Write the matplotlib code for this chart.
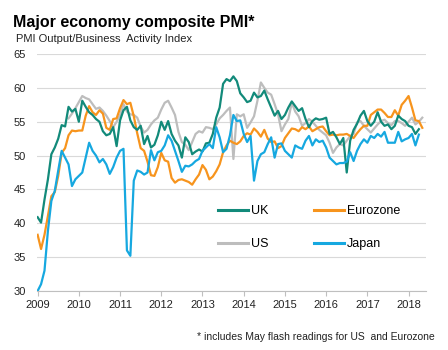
import numpy as np
import matplotlib
matplotlib.use("Agg")
import matplotlib.pyplot as plt
from matplotlib.lines import Line2D

plt.rcParams['font.family'] = ['Liberation Sans', 'DejaVu Sans']

# monthly readings, Jan 2009 onwards
uk = [40.9, 40.1, 43.5, 46.5, 50.2, 51.2, 52.5, 54.5, 54.3, 57.2, 56.5, 56.9,
      55.0, 58.1, 57.2, 56.4, 56.0, 55.4, 55.0, 53.6, 53.0, 53.2, 54.2, 51.4,
      55.2, 56.7, 57.2, 55.2, 54.2, 53.8, 54.4, 51.7, 52.9, 51.2, 51.6, 53.0,
      55.0, 53.8, 55.1, 53.2, 52.2, 51.5, 49.7, 52.7, 52.0, 50.2, 50.6, 50.9,
      50.6, 51.8, 51.9, 53.2, 55.6, 57.1, 60.6, 61.3, 61.0, 61.7, 61.0, 59.2,
      58.6, 57.9, 58.1, 59.3, 58.6, 58.8, 59.6, 58.3, 57.1, 55.9, 56.6, 55.4,
      56.0, 57.1, 58.0, 57.3, 56.6, 57.0, 55.4, 54.2, 55.1, 55.5, 55.3, 55.4,
      55.6, 53.2, 53.5, 52.7, 51.7, 52.6, 47.5, 52.2, 53.8, 54.7, 55.9, 56.6,
      55.1, 54.4, 55.0, 56.4, 55.0, 54.4, 54.6, 53.9, 54.4, 55.9, 55.4, 55.1,
      54.4, 54.2, 53.2, 53.9]

eurozone = [38.3, 36.2, 38.3, 41.1, 44.0, 44.6, 47.0, 50.4, 51.1, 53.0, 53.7, 53.6,
            53.7, 53.7, 55.9, 57.3, 56.4, 56.0, 56.7, 56.2, 54.1, 53.8, 55.4, 55.5,
            57.0, 58.2, 57.6, 57.8, 55.8, 53.3, 51.1, 50.7, 49.1, 47.1, 47.0, 48.3,
            50.4, 49.3, 49.1, 46.7, 46.0, 46.4, 46.5, 46.3, 46.1, 45.7, 46.5, 47.2,
            48.6, 47.9, 46.5, 46.9, 47.7, 48.7, 50.5, 51.5, 52.2, 51.9, 51.7, 52.1,
            52.9, 53.3, 53.1, 54.0, 53.5, 52.8, 53.8, 52.5, 52.0, 52.1, 51.1, 51.4,
            52.6, 53.3, 54.0, 53.9, 53.6, 54.2, 53.9, 54.3, 53.6, 53.9, 54.2, 54.3,
            53.6, 53.0, 53.1, 53.0, 53.1, 53.1, 53.2, 52.9, 52.6, 53.3, 53.9, 54.4,
            54.4, 56.0, 56.4, 56.8, 56.8, 56.3, 55.7, 55.7, 56.7, 55.9, 57.5, 58.1,
            58.8, 57.1, 55.2, 55.1, 54.1]

# US series starts Oct 2009
us_start = 9
us = [55.5, 56.2, 57.0,
      57.9, 58.8, 58.5, 58.3, 57.6, 56.9, 57.1, 56.6, 55.9, 55.1, 54.2, 55.0,
      56.0, 57.6, 56.5, 56.1, 56.0, 55.6, 54.3, 53.4, 53.8, 54.6, 55.2, 55.6,
      56.8, 57.8, 58.1, 57.1, 56.0, 53.5, 52.0, 51.6, 50.8, 52.0, 53.2, 53.6,
      53.4, 54.2, 54.1, 53.9, 54.6, 55.5, 56.0, 56.6, 57.1, 49.5, 56.1, 55.8,
      56.1, 54.1, 54.9, 55.8, 58.1, 60.8, 60.0, 59.3, 59.0, 57.6, 56.1, 53.6,
      54.6, 55.4, 57.8, 56.5, 55.8, 54.4, 54.8, 55.4, 55.0, 54.4, 53.8, 53.4,
      53.0, 51.9, 50.4, 51.2, 51.7, 51.5, 52.2, 52.9, 53.2, 54.9, 55.1, 54.4,
      53.9, 53.4, 54.0, 54.6, 55.1, 55.3, 54.8, 54.5, 55.1, 55.1, 54.8, 54.4,
      55.0, 55.6, 54.6, 55.0, 55.6]

japan = [30.0, 31.0, 33.0, 38.9, 43.3, 44.8, 47.8, 50.7, 49.7, 48.7, 45.5, 46.5,
         47.0, 47.5, 49.7, 51.9, 50.7, 50.0, 49.0, 49.5, 48.7, 47.3, 48.3, 49.7,
         50.7, 51.0, 36.0, 35.2, 46.3, 47.8, 47.6, 47.2, 47.5, 50.8, 49.3, 50.5,
         50.7, 51.5, 53.0, 52.2, 50.7, 49.2, 47.6, 48.5, 48.4, 48.7, 49.2, 49.5,
         50.7, 51.2, 51.7, 51.1, 54.2, 52.7, 50.5, 51.0, 53.0, 56.0, 55.1, 55.2,
         53.2, 52.0, 52.9, 46.3, 49.2, 50.2, 50.5, 51.7, 52.7, 49.7, 51.7, 51.8,
         50.7, 50.2, 49.7, 51.5, 51.2, 51.0, 52.2, 52.9, 51.5, 52.4, 52.0, 52.2,
         51.2, 49.7, 49.2, 48.7, 48.9, 48.9, 49.1, 50.5, 49.2, 50.7, 51.7, 52.4,
         51.9, 52.9, 52.6, 53.2, 52.8, 53.5, 51.9, 51.9, 51.9, 53.5, 52.1, 52.4,
         52.6, 53.2, 51.5, 53.1]

years = list(range(2009, 2019))

def months(n, start=0):
    return 2009 + (start + np.arange(n)) / 12.0

c_uk = '#128a7a'
c_ez = '#f7941d'
c_us = '#bdbdbd'
c_jp = '#16a8e0'

fig = plt.figure(figsize=(4.48, 3.5), dpi=100)
ax = fig.add_axes([0.0826, 0.1686, 0.868, 0.677])

lw = 1.6
ax.plot(months(len(us), us_start), us, color=c_us, lw=lw)
ax.plot(months(len(eurozone)), eurozone, color=c_ez, lw=lw)
ax.plot(months(len(uk)), uk, color=c_uk, lw=lw)
ax.plot(months(len(japan)), japan, color=c_jp, lw=lw)

ax.set_xlim(2008.985, 2018.42)
ax.set_ylim(30, 65)
ax.set_yticks(range(30, 70, 5))
ax.set_xticks(years)
ax.set_xticklabels([str(y) for y in years])
ax.grid(axis='y', color='#d9d9d9', lw=0.8)
ax.set_axisbelow(True)
for s in ['left', 'right', 'top']:
    ax.spines[s].set_visible(False)
ax.spines['bottom'].set_color('#bfbfbf')
ax.spines['bottom'].set_linewidth(0.8)
ax.tick_params(axis='y', length=0, pad=8, labelsize=8, labelcolor='#222222')
ax.tick_params(axis='x', length=3.5, width=0.8, color='#bfbfbf', pad=3,
               labelsize=8, labelcolor='#222222')

handles = [Line2D([], [], color=c_uk, lw=2.2), Line2D([], [], color=c_us, lw=2.2),
           Line2D([], [], color=c_ez, lw=2.2), Line2D([], [], color=c_jp, lw=2.2)]
labels = ['UK', 'US', 'Eurozone', 'Japan']
ax.legend(handles, labels, ncol=2, frameon=False, loc='center',
          bbox_to_anchor=(0.70, 0.267), fontsize=9, handlelength=2.4,
          handletextpad=0.25, columnspacing=3.6, labelspacing=1.7,
          borderpad=0, borderaxespad=0)

fig.text(0.028, 0.923, 'Major economy composite PMI*', fontsize=11.5,
         fontweight='bold', va='baseline', ha='left')
fig.text(0.036, 0.881, 'PMI Output/Business  Activity Index', fontsize=8,
         va='baseline', ha='left', color='#222222')
fig.text(0.971, 0.029, '* includes May flash readings for US  and Eurozone',
         fontsize=7.5, va='baseline', ha='right', color='#222222')

fig.savefig('out.png', dpi=100)
